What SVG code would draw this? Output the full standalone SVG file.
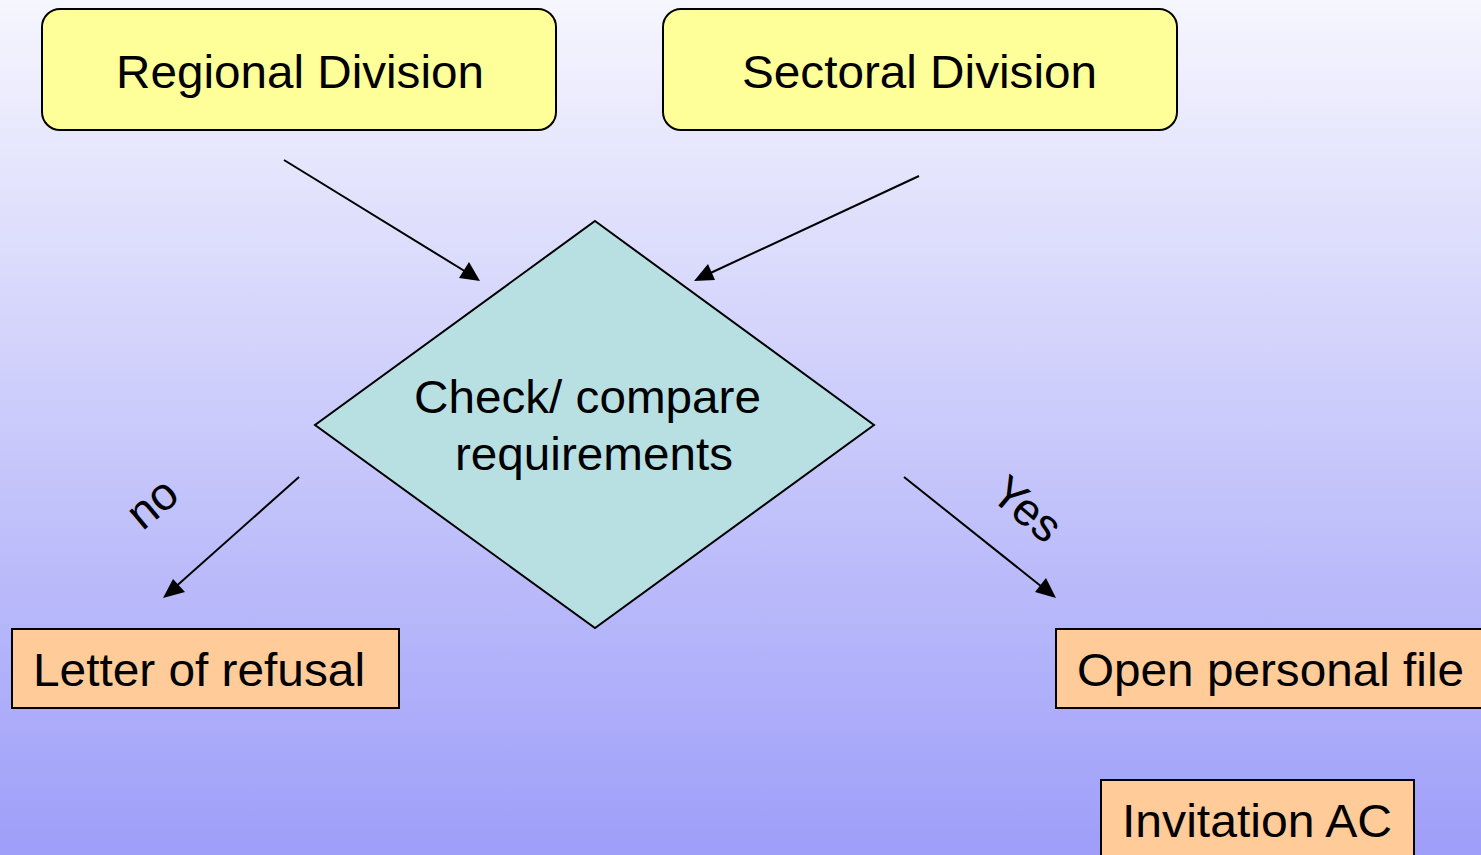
<svg xmlns="http://www.w3.org/2000/svg" width="1481" height="855" viewBox="0 0 1481 855">
<defs>
<linearGradient id="bg" x1="0" y1="0" x2="0" y2="1">
<stop offset="0" stop-color="#F6F6FE"/>
<stop offset="1" stop-color="#9E9EF9"/>
</linearGradient>
<style>
.t{font-family:"Liberation Sans",Arial,sans-serif;font-size:46px;fill:#000}
.lbl{font-family:"Liberation Sans",Arial,sans-serif;font-size:46px;fill:#000}
.y{fill:#FFFF99;stroke:#000;stroke-width:2}
.o{fill:#FFCC99;stroke:#000;stroke-width:2}
.c{stroke:#000;stroke-width:2;fill:none}
</style>
</defs>
<rect width="1481" height="855" fill="url(#bg)"/>
<g id="connectors">
<line class="c" x1="284" y1="160" x2="471" y2="275"/>
<path d="M480,281 L459,278 L469,262 z" fill="#000"/>
<line class="c" x1="919" y1="176" x2="704" y2="276"/>
<path d="M694,281 L708,264 L715,280 z" fill="#000"/>
<line class="c" x1="299" y1="477" x2="172" y2="590"/>
<path d="M163,598 L173,579 L185,592 z" fill="#000"/>
<line class="c" x1="904" y1="477" x2="1047" y2="591"/>
<path d="M1056,598 L1035,592 L1046,578 z" fill="#000"/>
<text class="lbl" transform="translate(162,515) rotate(-40)" text-anchor="middle">no</text>
<text class="lbl" transform="translate(1017,521) rotate(40)" text-anchor="middle">Yes</text>
</g>
<g id="regional">
<rect class="y" x="42" y="9" width="514" height="121" rx="18"/>
<text class="t" x="116" y="88" textLength="368" lengthAdjust="spacingAndGlyphs">Regional Division</text>
</g>
<g id="sectoral">
<rect class="y" x="663" y="9" width="514" height="121" rx="18"/>
<text class="t" x="742" y="88" textLength="355" lengthAdjust="spacingAndGlyphs">Sectoral Division</text>
</g>
<g id="check">
<polygon points="595,221 874,425 595,628 315,425" fill="#B8E0E2" stroke="#000" stroke-width="2"/>
<text class="t" x="414" y="413" textLength="347" lengthAdjust="spacingAndGlyphs">Check/ compare</text>
<text class="t" x="455" y="470" textLength="278" lengthAdjust="spacingAndGlyphs">requirements</text>
</g>
<g id="refusal">
<rect class="o" x="12" y="629" width="387" height="79"/>
<text class="t" x="33" y="686" textLength="332" lengthAdjust="spacingAndGlyphs">Letter of refusal</text>
</g>
<g id="personal">
<rect class="o" x="1056" y="629" width="430" height="79"/>
<text class="t" x="1077" y="686" textLength="387" lengthAdjust="spacingAndGlyphs">Open personal file</text>
</g>
<g id="invitation">
<rect class="o" x="1101" y="780" width="313" height="80"/>
<text class="t" x="1122" y="837" textLength="270" lengthAdjust="spacingAndGlyphs">Invitation AC</text>
</g>
</svg>
